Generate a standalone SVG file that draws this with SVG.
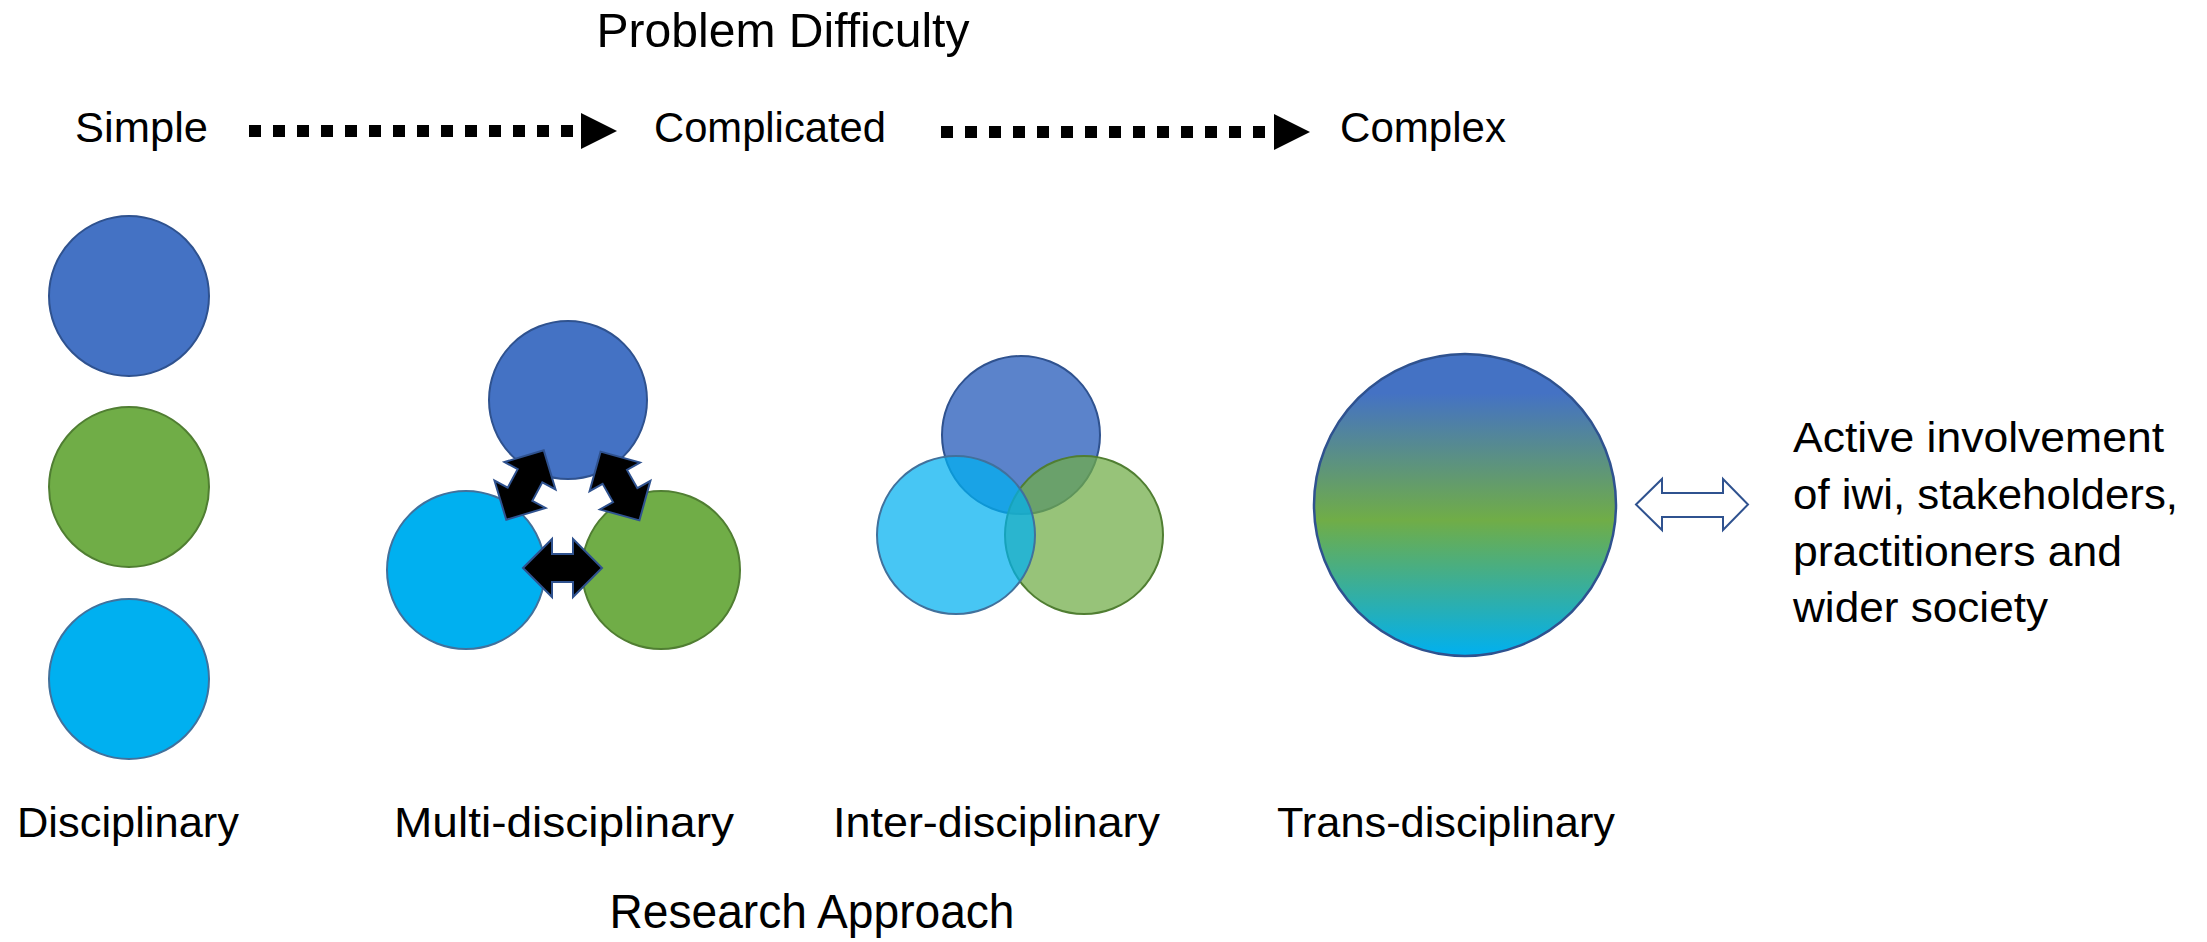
<svg xmlns="http://www.w3.org/2000/svg" xmlns:xlink="http://www.w3.org/1999/xlink" width="2207" height="942" viewBox="0 0 2207 942">
  <defs>
    <style>
      text { font-family: "Liberation Sans", Arial, sans-serif; fill: #000; }
      .hdr { font-size: 48px; }
      .lbl { font-size: 43px; }
      .side { font-size: 42px; }
      .blue { fill: #4472C4; stroke: #2F528F; stroke-width: 2; }
      .green { fill: #70AD47; stroke: #507E32; stroke-width: 2; }
      .cyan { fill: #00B0F0; stroke: #41719C; stroke-width: 2; }
      .dots { fill: none; stroke: #000; stroke-width: 12; stroke-dasharray: 12 12; }
      .head { fill: #000; stroke: none; }
      .blk { fill: #000; stroke: #2F528F; stroke-width: 2; stroke-linejoin: miter; }
      .hollow { fill: #fff; stroke: #2F528F; stroke-width: 2; stroke-linejoin: miter; }
    </style>
    <linearGradient id="transGrad" x1="0" y1="0" x2="0" y2="1">
      <stop offset="0" stop-color="#4472C4"/>
      <stop offset="0.13" stop-color="#4472C4"/>
      <stop offset="0.55" stop-color="#70AD47"/>
      <stop offset="1" stop-color="#00B0F0"/>
    </linearGradient>
    <polygon id="dbl" points="-39.5,0 -10.5,-29 -10.5,-14 10.5,-14 10.5,-29 39.5,0 10.5,29 10.5,14 -10.5,14 -10.5,29"/>
  </defs>

  <rect width="2207" height="942" fill="#fff"/>

  <g id="title">
    <text class="hdr" x="783" y="47" text-anchor="middle" textLength="373" lengthAdjust="spacingAndGlyphs">Problem Difficulty</text>
  </g>

  <g id="simple">
    <text class="lbl" x="75" y="142" textLength="133" lengthAdjust="spacingAndGlyphs">Simple</text>
  </g>
  <g id="complicated">
    <text class="lbl" x="654" y="142" textLength="232" lengthAdjust="spacingAndGlyphs">Complicated</text>
  </g>
  <g id="complex">
    <text class="lbl" x="1340" y="142" textLength="166" lengthAdjust="spacingAndGlyphs">Complex</text>
  </g>

  <g id="disciplinary">
    <circle class="blue" cx="129" cy="296" r="80"/>
    <circle class="green" cx="129" cy="487" r="80"/>
    <circle class="cyan" cx="129" cy="679" r="80"/>
    <text class="lbl" x="17" y="837" textLength="222" lengthAdjust="spacingAndGlyphs">Disciplinary</text>
  </g>

  <g id="multi-disciplinary">
    <circle class="blue" cx="568" cy="400" r="79"/>
    <circle class="cyan" cx="466" cy="570" r="79"/>
    <circle class="green" cx="661" cy="570" r="79"/>
    <text class="lbl" x="394" y="837" textLength="340" lengthAdjust="spacingAndGlyphs">Multi-disciplinary</text>
  </g>

  <g id="inter-disciplinary">
    <circle cx="1021" cy="435" r="79" fill="#4472C4" fill-opacity="0.88" stroke="#2F528F" stroke-width="2"/>
    <circle cx="1084" cy="535" r="79" fill="#70AD47" fill-opacity="0.73" stroke="#507E32" stroke-width="2"/>
    <circle cx="956" cy="535" r="79" fill="#00B0F0" fill-opacity="0.72" stroke="#41719C" stroke-width="2"/>
    <text class="lbl" x="833" y="837" textLength="327" lengthAdjust="spacingAndGlyphs">Inter-disciplinary</text>
  </g>

  <g id="trans-disciplinary">
    <circle cx="1465" cy="505" r="151" fill="url(#transGrad)" stroke="#2F528F" stroke-width="2.5"/>
    <text class="lbl" x="1277" y="837" textLength="338" lengthAdjust="spacingAndGlyphs">Trans-disciplinary</text>
  </g>

  <g id="involvement">
    <text class="side" x="1793" y="452" textLength="371" lengthAdjust="spacingAndGlyphs">Active involvement</text>
    <text class="side" x="1793" y="509" textLength="385" lengthAdjust="spacingAndGlyphs">of iwi, stakeholders,</text>
    <text class="side" x="1793" y="566" textLength="329" lengthAdjust="spacingAndGlyphs">practitioners and</text>
    <text class="side" x="1793" y="622" textLength="255" lengthAdjust="spacingAndGlyphs">wider society</text>
  </g>

  <g id="research-approach">
    <text class="hdr" x="812" y="928" text-anchor="middle" textLength="405" lengthAdjust="spacingAndGlyphs">Research Approach</text>
  </g>

  <g id="connectors">
    <line class="dots" x1="249" y1="131" x2="573" y2="131"/>
    <polygon class="head" points="581,113 617,131 581,149"/>
    <line class="dots" x1="941" y1="132" x2="1265" y2="132"/>
    <polygon class="head" points="1274,114 1310,132 1274,150"/>

    <use xlink:href="#dbl" href="#dbl" class="blk" transform="translate(562.5,568)"/>
    <use xlink:href="#dbl" href="#dbl" class="blk" transform="translate(525,485) rotate(-61.7)"/>
    <use xlink:href="#dbl" href="#dbl" class="blk" transform="translate(620,486) rotate(60.5)"/>

    <polygon class="hollow" points="1636,504.5 1662,479 1662,493 1723,493 1723,479 1748,504.5 1723,530 1723,517 1662,517 1662,530"/>
  </g>
</svg>
